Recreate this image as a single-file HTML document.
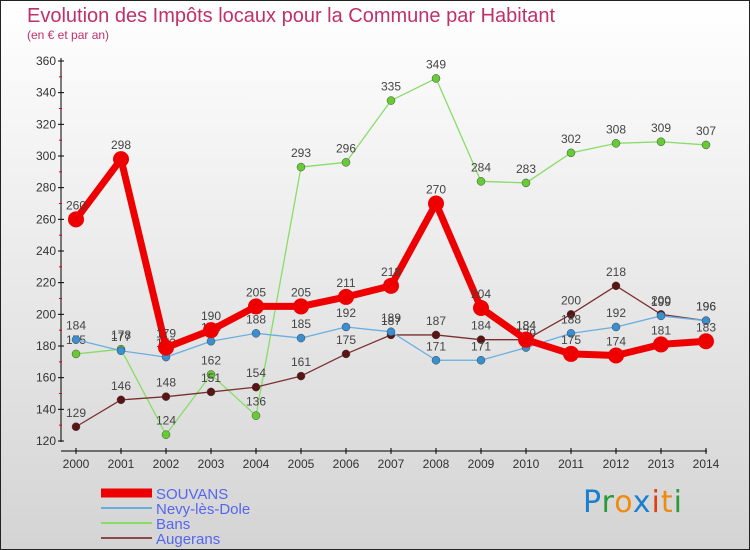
<!DOCTYPE html>
<html><head><meta charset="utf-8"><style>
body{margin:0}
#wrap{position:relative;width:748px;height:548px;border:1px solid #222;background:linear-gradient(#fff,#d4d4d4);font-family:"Liberation Sans",sans-serif;overflow:hidden}
.t{position:absolute;left:26px;top:4px;font-size:20px;color:#c0306a}
.s{position:absolute;left:26px;top:27px;font-size:12px;color:#c0306a}
</style></head><body>
<div id="wrap">
<div class="t">Evolution des Impôts locaux pour la Commune par Habitant</div>
<div class="s">(en € et par an)</div>
<svg id="svg" width="748" height="548" style="position:absolute;left:0;top:0"></svg>
<div style="position:absolute;left:582px;top:484px;font-size:30px;font-family:'DejaVu Sans',sans-serif;letter-spacing:1px"><span style="color:#1a7fd0">P</span><span style="color:#2a9a3a">r</span><span style="color:#f08a10">o</span><span style="color:#1a7fd0">x</span><span style="color:#e04010">i</span><span style="color:#f08a10">t</span><span style="color:#2a9a3a">i</span></div>
</div>
<script>
const years=[2000,2001,2002,2003,2004,2005,2006,2007,2008,2009,2010,2011,2012,2013,2014];
const souvans=[260,298,179,190,205,205,211,218,270,204,184,175,174,181,183];
const nevy=[184,177,173,183,188,185,192,189,171,171,179,188,192,199,196];
const bans=[175,178,124,162,136,293,296,335,349,284,283,302,308,309,307];
const augerans=[129,146,148,151,154,161,175,187,187,184,184,200,218,200,196];
const yTicks=[120,140,160,180,200,220,240,260,280,300,320,340,360];
const names=["SOUVANS","Nevy-lès-Dole","Bans","Augerans"];
const NS="http://www.w3.org/2000/svg";
const svg=document.getElementById('svg');
const x=i=>75+i*45;
const y=v=>440-(v-120)*380/240;
function mk(t,a){const e=document.createElementNS(NS,t);for(const k in a)e.setAttribute(k,a[k]);svg.appendChild(e);return e;}
let ax=mk('line',{x1:60,y1:57,x2:60,y2:441,stroke:'#000'});


let bx=mk('line',{x1:60,y1:450,x2:706,y2:450,stroke:'#000'});


yTicks.forEach((v,i)=>{
 mk('line',{x1:57,x2:63,y1:y(v),y2:y(v),stroke:'#000'});
 if(i<yTicks.length-1)mk('line',{x1:58,x2:61,y1:y(v+10),y2:y(v+10),stroke:'#e00'});
 const t=mk('text',{x:55,y:y(v)+4,'text-anchor':'end','font-size':12,fill:'#333'});
 t.textContent=v;
 
 
});
years.forEach((yr,i)=>{
 mk('line',{x1:x(i),x2:x(i),y1:447,y2:453,stroke:'#000'});
 const t=mk('text',{x:x(i),y:467,'text-anchor':'middle','font-size':12,fill:'#333'});
 t.textContent=yr;
 
 
});
const series=[[bans,'#88dd66','#66cc33',1.3,4],[augerans,'#7a3030','#5a1414',1.3,4],[nevy,'#6aaee0','#3a8fd0',1.3,4],[souvans,'#ee0000','#ee0000',7,8]];
const snames=['bans','augerans','nevy','souvans'];
series.forEach(([d,lc,pc,w,r],si)=>{
 const p=mk('polyline',{points:d.map((v,i)=>x(i)+','+y(v)).join(' '),fill:'none',stroke:lc,'stroke-width':w,'stroke-linejoin':'round'});
 
 
 d.forEach((v,i)=>{
  const c=mk('circle',{cx:x(i),cy:y(v),r:r,fill:pc,stroke:si==3?'none':'#444','stroke-width':0.5});
  
  
  const t=mk('text',{x:x(i),y:y(v)-10,'text-anchor':'middle','font-size':12,fill:'#444'});
  t.textContent=v;
  
  
 });
});
const lc=['#ee0000','#6aaee0','#88dd66','#8a4a4a'],lw=[9,2,2,2];
names.forEach((n,i)=>{
 const yy=492+i*15;
 const l=mk('line',{x1:100,x2:151,y1:yy,y2:yy,stroke:lc[i],'stroke-width':lw[i]});
 
 
 const t=mk('text',{x:155,y:yy+6,'font-size':15,fill:'#5566ee'});
 t.textContent=n;
 
 
});
</script>
</body></html>
